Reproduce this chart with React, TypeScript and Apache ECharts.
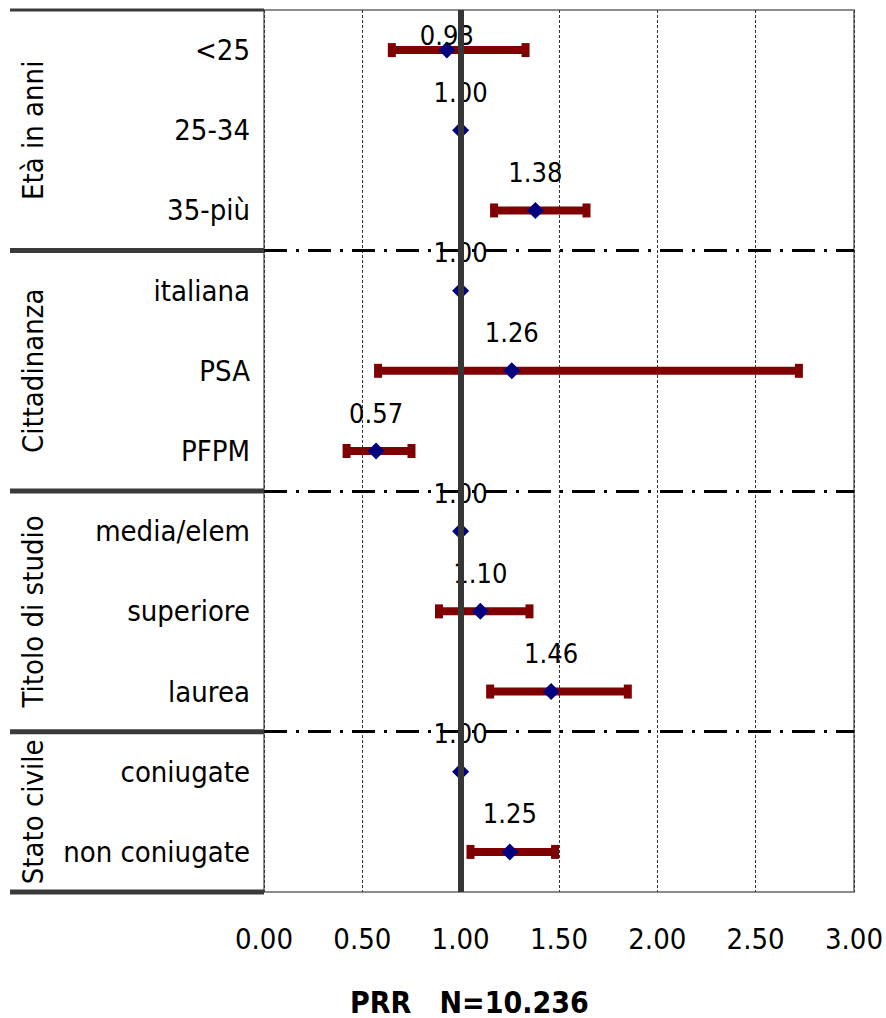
import React, { useEffect, useRef } from "react";
import * as echarts from "echarts";

const categories = ["<25", "25-34", "35-più", "italiana", "PSA", "PFPM", "media/elem", "superiore", "laurea", "coniugate", "non coniugate"];
const groupNames = ["Età in anni", "Cittadinanza", "Titolo di studio", "Stato civile"];
const groupSizes = [3, 3, 3, 2];
const prr = [0.93, 1.0, 1.38, 1.0, 1.26, 0.57, 1.0, 1.1, 1.46, 1.0, 1.25];
const lower = [0.65, null, 1.17, null, 0.58, 0.42, null, 0.89, 1.15, null, 1.05];
const upper = [1.33, null, 1.64, null, 2.72, 0.75, null, 1.35, 1.85, null, 1.48];
const xTicks = { min: 0, max: 3, interval: 0.5 };
const axisTitle = "PRR   N=10.236";

const FONT = "'DejaVu Sans Condensed', 'DejaVu Sans', sans-serif";

export default function App() {
  const ref = useRef<HTMLDivElement>(null);
  useEffect(() => {
    document.body.style.margin = "0";
    const chart = echarts.init(ref.current!, null, { renderer: "svg" });
    const barData: any[] = [];
    categories.forEach((c, i) => {
      if (lower[i] != null && upper[i] != null) barData.push([lower[i], upper[i], i]);
    });
    const bounds: number[] = [];
    let acc = 0;
    groupSizes.forEach((s) => { acc += s; bounds.push(acc); });
    const inner = bounds.slice(0, -1);

    const option: any = {
      animation: false,
      backgroundColor: "#fff",
      textStyle: { fontFamily: FONT },
      grid: { left: 264, right: 31, top: 10, bottom: 126, show: true, borderColor: "#8c8c8c", borderWidth: 2, backgroundColor: "transparent" },
      title: {
        text: axisTitle,
        left: 350,
        top: 987,
        padding: 0,
        textStyle: { fontFamily: FONT, fontWeight: "bold", fontSize: 30, lineHeight: 30, color: "#000" },
      },
      xAxis: {
        type: "value",
        min: xTicks.min,
        max: xTicks.max,
        interval: xTicks.interval,
        axisLine: { show: false },
        axisTick: { show: false },
        axisLabel: { formatter: (v: number) => v.toFixed(2), fontSize: 29, color: "#000", margin: 32, fontFamily: FONT },
        splitLine: { show: true, lineStyle: { color: "#333", width: 1, type: [3, 2] } },
      },
      yAxis: [
        {
          type: "category",
          data: categories,
          inverse: true,
          axisLine: { show: false },
          axisTick: { show: false },
          splitLine: { show: false },
          axisLabel: { fontSize: 29, color: "#000", margin: 14, fontFamily: FONT },
        },
        { type: "value", min: 0, max: categories.length, inverse: true, show: false, splitLine: { show: false } },
      ],
      series: [
        {
          type: "line",
          yAxisIndex: 1,
          data: [],
          z: 1,
          silent: true,
          markLine: {
            silent: true,
            symbol: "none",
            label: { show: false },
            lineStyle: { color: "#000", width: 3, type: [23, 9, 3, 9] },
            data: inner.map((b) => ({ yAxis: b })),
          },
        },
        {
          type: "line",
          data: [],
          z: 2,
          silent: true,
          markLine: {
            silent: true,
            symbol: "none",
            label: { show: false },
            lineStyle: { color: "#363636", width: 6, type: "solid" },
            data: [{ xAxis: 1 }],
          },
        },
        {
          type: "custom",
          z: 3,
          data: barData,
          encode: { x: [0, 1], y: 2 },
          renderItem: (params: any, api: any) => {
            const a = api.coord([api.value(0), api.value(2)]);
            const b = api.coord([api.value(1), api.value(2)]);
            const col = "#7f0000";
            return {
              type: "group",
              children: [
                { type: "rect", shape: { x: a[0], y: a[1] - 4, width: b[0] - a[0], height: 8 }, style: { fill: col } },
                { type: "rect", shape: { x: a[0] - 4, y: a[1] - 7, width: 8, height: 14 }, style: { fill: col } },
                { type: "rect", shape: { x: b[0] - 4, y: b[1] - 7, width: 8, height: 14 }, style: { fill: col } },
              ],
            };
          },
        },
        {
          type: "scatter",
          z: 4,
          symbol: "diamond",
          symbolSize: 17,
          itemStyle: { color: "#000080", opacity: 1 },
          label: {
            show: true,
            position: "top",
            distance: 16,
            fontSize: 27,
            color: "#000",
            opacity: 1,
            fontFamily: FONT,
            formatter: (p: any) => p.value[0].toFixed(2),
          },
          data: prr.map((v, i) => {
            const item: any = { value: [v, categories[i]] };
            // first label would cross the top border of the plot: shifted down as in the original
            if (i === 0) item.label = { offset: [0, 23] };
            return item;
          }),
        },
      ],
    };
    chart.setOption(option);

    const gl = 10;
    const gx = 264;
    const yPix = (v: number) => chart.convertToPixel({ yAxisIndex: 1 }, v) as number;
    const graphics: any[] = [];
    graphics.push({ type: "line", shape: { x1: gl, y1: yPix(0), x2: gx, y2: yPix(0) }, style: { stroke: "#3a3a3a", lineWidth: 3 } });
    bounds.forEach((b) => {
      graphics.push({ type: "line", shape: { x1: gl, y1: yPix(b), x2: gx, y2: yPix(b) }, style: { stroke: "#3a3a3a", lineWidth: 5 } });
    });
    let start = 0;
    groupNames.forEach((g, k) => {
      const end = start + groupSizes[k];
      const cy = (yPix(start) + yPix(end)) / 2;
      graphics.push({
        type: "text",
        x: 33,
        y: cy,
        rotation: Math.PI / 2,
        style: { text: g, font: `29px ${FONT}`, fill: "#000", align: "center", verticalAlign: "middle" },
      });
      start = end;
    });
    chart.setOption({ graphic: graphics });

    return () => chart.dispose();
  }, []);
  return <div ref={ref} style={{ width: 886, height: 1018 }} />;
}
